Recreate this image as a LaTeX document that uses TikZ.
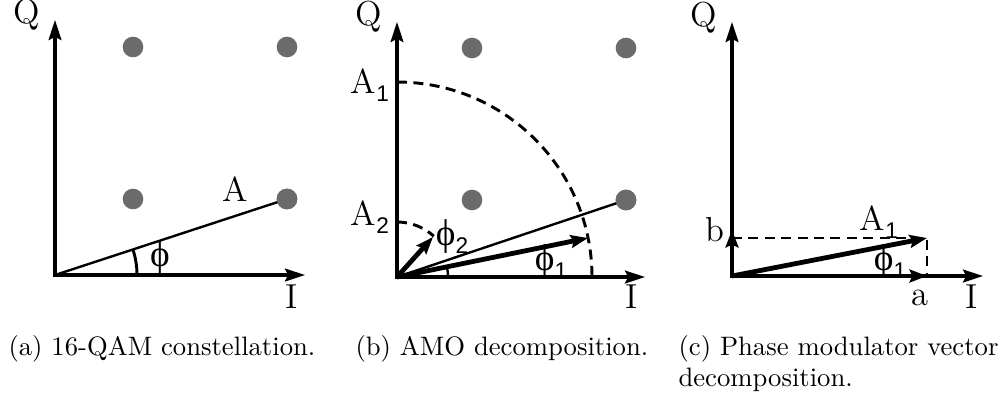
\documentclass[tikz,border=0pt]{standalone}
\usepackage{fontspec}
\newfontfamily\phifont{Liberation Serif}
\newfontfamily\subfont{Liberation Sans}
\usetikzlibrary{arrows.meta}
\definecolor{dotgray}{HTML}{6B6B6B}
\newcommand{\sbs}[1]{\raisebox{-3pt}{\fontsize{8.5}{9}\subfont #1}}
\newcommand{\phig}{{\phifont\fontsize{14}{15}\selectfont ϕ}}
\begin{document}
\begin{tikzpicture}[x=0.375pt,y=0.375pt,
  axis/.style={line width=1.2pt, line join=miter,
    {Stealth[length=7.5pt,width=4.8pt,inset=1.2pt]}-{Stealth[length=7.5pt,width=4.8pt,inset=1.2pt]}},
  thinln/.style={line width=0.9pt},
  vec/.style={line width=1.8pt, -{Stealth[length=6.5pt,width=4.8pt,inset=1pt]}},
  dsh/.style={line width=1.1pt, dash pattern=on 3.75pt off 2.4pt},
  dot/.style={circle, fill=dotgray, inner sep=0pt, minimum size=7.75pt},
  lbl/.style={font=\fontsize{13}{15}\selectfont, inner sep=0pt},
  captext/.style={font=\fontsize{10}{12}\selectfont, inner sep=0pt, anchor=base west}]
\useasboundingbox (0,0) rectangle (1006,396);

% ---------- panel (a)
\coordinate (Oa) at (55,121);
\coordinate (Qa) at (55,376);
\coordinate (Ia) at (305,121);
\draw[axis] (Qa) -- (Oa) -- (Ia);
\node[dot] (a1) at (133,349) {};
\node[dot] (a2) at (287,349) {};
\node[dot] (a3) at (133,197) {};
\node[dot] (a4) at (287,197) {};
\draw[thinln] (Oa) -- (a4.center);
\node[dot] at (a4) {};
\draw[line width=1.1pt] (Oa) ++(82,0) arc[start angle=0,end angle=18.1,radius=30.75pt];
\node[lbl] (qa) at (27,381) {Q};
\node[lbl] (ia) at (292,99) {I};
\node[lbl] (la) at (235,207) {A};
\node[lbl] (pa) at (160,138) {\phig};

% ---------- panel (b)
\coordinate (Ob) at (397,119);
\coordinate (Qb) at (397,374);
\coordinate (Ib) at (645,119);
\draw[axis] (Qb) -- (Ob) -- (Ib);
\node[dot] (b1) at (472,348) {};
\node[dot] (b2) at (626,348) {};
\node[dot] (b3) at (472,196) {};
\draw[dsh] (Ob) ++(0,195) arc[start angle=90,end angle=0,radius=73.125pt];
\draw[dsh] (Ob) ++(0,55) arc[start angle=90,end angle=48,radius=20.625pt];
\draw[thinln] (Ob) ++(51,0) arc[start angle=0,end angle=11.5,radius=19.125pt];
\node[dot] (b4) at (626,196) {};
\draw[thinln] (Ob) -- (b4.center);
\node[dot] at (b4) {};
\coordinate (A1b) at (588,158);
\coordinate (P2b) at (433,159);
\draw[vec] (Ob) -- (A1b);
\draw[vec] (Ob) -- (P2b);
\node[lbl] (qb) at (369,379) {Q};
\node[lbl] (ib) at (632,99) {I};
\node[lbl] (a1b) at (370,311) {A\sbs{1}};
\node[lbl] (a2b) at (370,179) {A\sbs{2}};
\node[lbl] (p2b) at (452,159) {\phig\sbs{2}};
\node[lbl] (p1b) at (551,134) {\phig\sbs{1}};

% ---------- panel (c)
\coordinate (Oc) at (732,120);
\coordinate (Qc) at (732,374);
\coordinate (Ic) at (983,120);
\draw[axis] (Qc) -- (Oc) -- (Ic);
\coordinate (ac) at (927,120);
\coordinate (bc) at (732,166);
\coordinate (bd) at (732,158);
\coordinate (A1c) at (927,158);
\draw[dsh] (bd) -- (A1c) -- (ac);
\draw[vec] (Oc) -- (ac);
\draw[vec] (Oc) -- (bc);
\draw[vec] (Oc) -- (A1c);
\node[lbl] (qc) at (704,378) {Q};
\node[lbl] (ic) at (972,99) {I};
\node[lbl] (lac) at (920,98) {a};
\node[lbl] (lbc) at (715,166) {b};
\node[lbl] (a1c) at (879,174) {A\sbs{1}};
\node[lbl] (p1c) at (890,134) {\phig\sbs{1}};

% ---------- captions
\node[captext] (capa) at (8,41) {(a) 16-QAM constellation.};
\node[captext] (capb) at (355,41) {(b) AMO decomposition.};
\node[captext] (capc) at (678,41) {(c) Phase modulator vector};
\node[captext] (capc2) at (678,10) {decomposition.};
\end{tikzpicture}
\end{document}
